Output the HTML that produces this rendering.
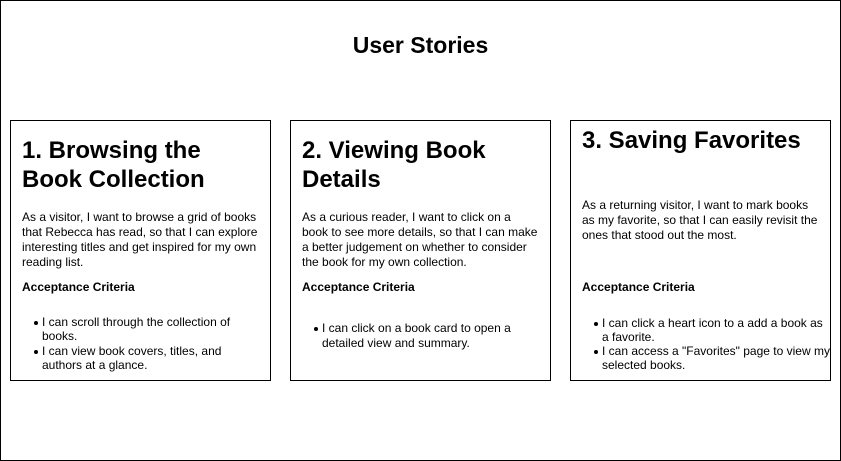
<!DOCTYPE html>
<html><head><meta charset="utf-8"><style>
*{margin:0;padding:0;box-sizing:border-box}
body{width:841px;height:461px;background:#fff;font-family:"Liberation Sans",Arial,sans-serif;color:#000;position:relative;overflow:hidden}
.frame{position:absolute;left:0;top:0;width:841px;height:461px;border:1px solid #000}
.title{position:absolute;left:0;width:841px;top:31px;text-align:center;font-weight:bold;font-size:23px;line-height:28px}
.box{position:absolute;top:120px;width:261px;height:261px;border:1px solid #000;overflow:hidden}
.l{position:absolute;white-space:nowrap;font-size:12px;line-height:15px}
.h{position:absolute;white-space:nowrap;font-size:24px;line-height:28px;font-weight:bold}
.b{font-weight:bold}
.dot{position:absolute;width:4px;height:4px;border-radius:50%;background:#000}
</style></head><body>
<div class="frame"></div>
<div class="title">User Stories</div>

<div class="box" style="left:10px">
<div class="h" style="left:11px;top:16px">1. Browsing the</div>
<div class="h" style="left:11px;top:45px">Book Collection</div>
<div class="l" style="left:11px;top:89px">As a visitor, I want to browse a grid of books</div>
<div class="l" style="left:11px;top:104px">that Rebecca has read, so that I can explore</div>
<div class="l" style="left:11px;top:119px">interesting titles and get inspired for my own</div>
<div class="l" style="left:11px;top:134px">reading list.</div>
<div class="l b" style="left:11px;top:159px">Acceptance Criteria</div>
<div class="dot" style="left:23px;top:200px"></div>
<div class="l" style="left:31px;top:194px">I can scroll through the collection of</div>
<div class="l" style="left:31px;top:208px">books.</div>
<div class="dot" style="left:23px;top:229px"></div>
<div class="l" style="left:31px;top:223px">I can view book covers, titles, and</div>
<div class="l" style="left:31px;top:237px">authors at a glance.</div>
</div>

<div class="box" style="left:290px">
<div class="h" style="left:11px;top:16px">2. Viewing Book</div>
<div class="h" style="left:11px;top:45px">Details</div>
<div class="l" style="left:11px;top:89px">As a curious reader, I want to click on a</div>
<div class="l" style="left:11px;top:104px">book to see more details, so that I can make</div>
<div class="l" style="left:11px;top:119px">a better judgement on whether to consider</div>
<div class="l" style="left:11px;top:134px">the book for my own collection.</div>
<div class="l b" style="left:11px;top:159px">Acceptance Criteria</div>
<div class="dot" style="left:23px;top:206px"></div>
<div class="l" style="left:31px;top:200px">I can click on a book card to open a</div>
<div class="l" style="left:31px;top:215px">detailed view and summary.</div>
</div>

<div class="box" style="left:570px">
<div class="h" style="left:11px;top:6px">3. Saving Favorites</div>
<div class="l" style="left:11px;top:77px">As a returning visitor, I want to mark books</div>
<div class="l" style="left:11px;top:92px">as my favorite, so that I can easily revisit the</div>
<div class="l" style="left:11px;top:107px">ones that stood out the most.</div>
<div class="l b" style="left:11px;top:159px">Acceptance Criteria</div>
<div class="dot" style="left:23px;top:201px"></div>
<div class="l" style="left:31px;top:195px">I can click a heart icon to a add a book as</div>
<div class="l" style="left:31px;top:209px">a favorite.</div>
<div class="dot" style="left:23px;top:229px"></div>
<div class="l" style="left:31px;top:223px">I can access a "Favorites" page to view my</div>
<div class="l" style="left:31px;top:237px">selected books.</div>
</div>
</body></html>
